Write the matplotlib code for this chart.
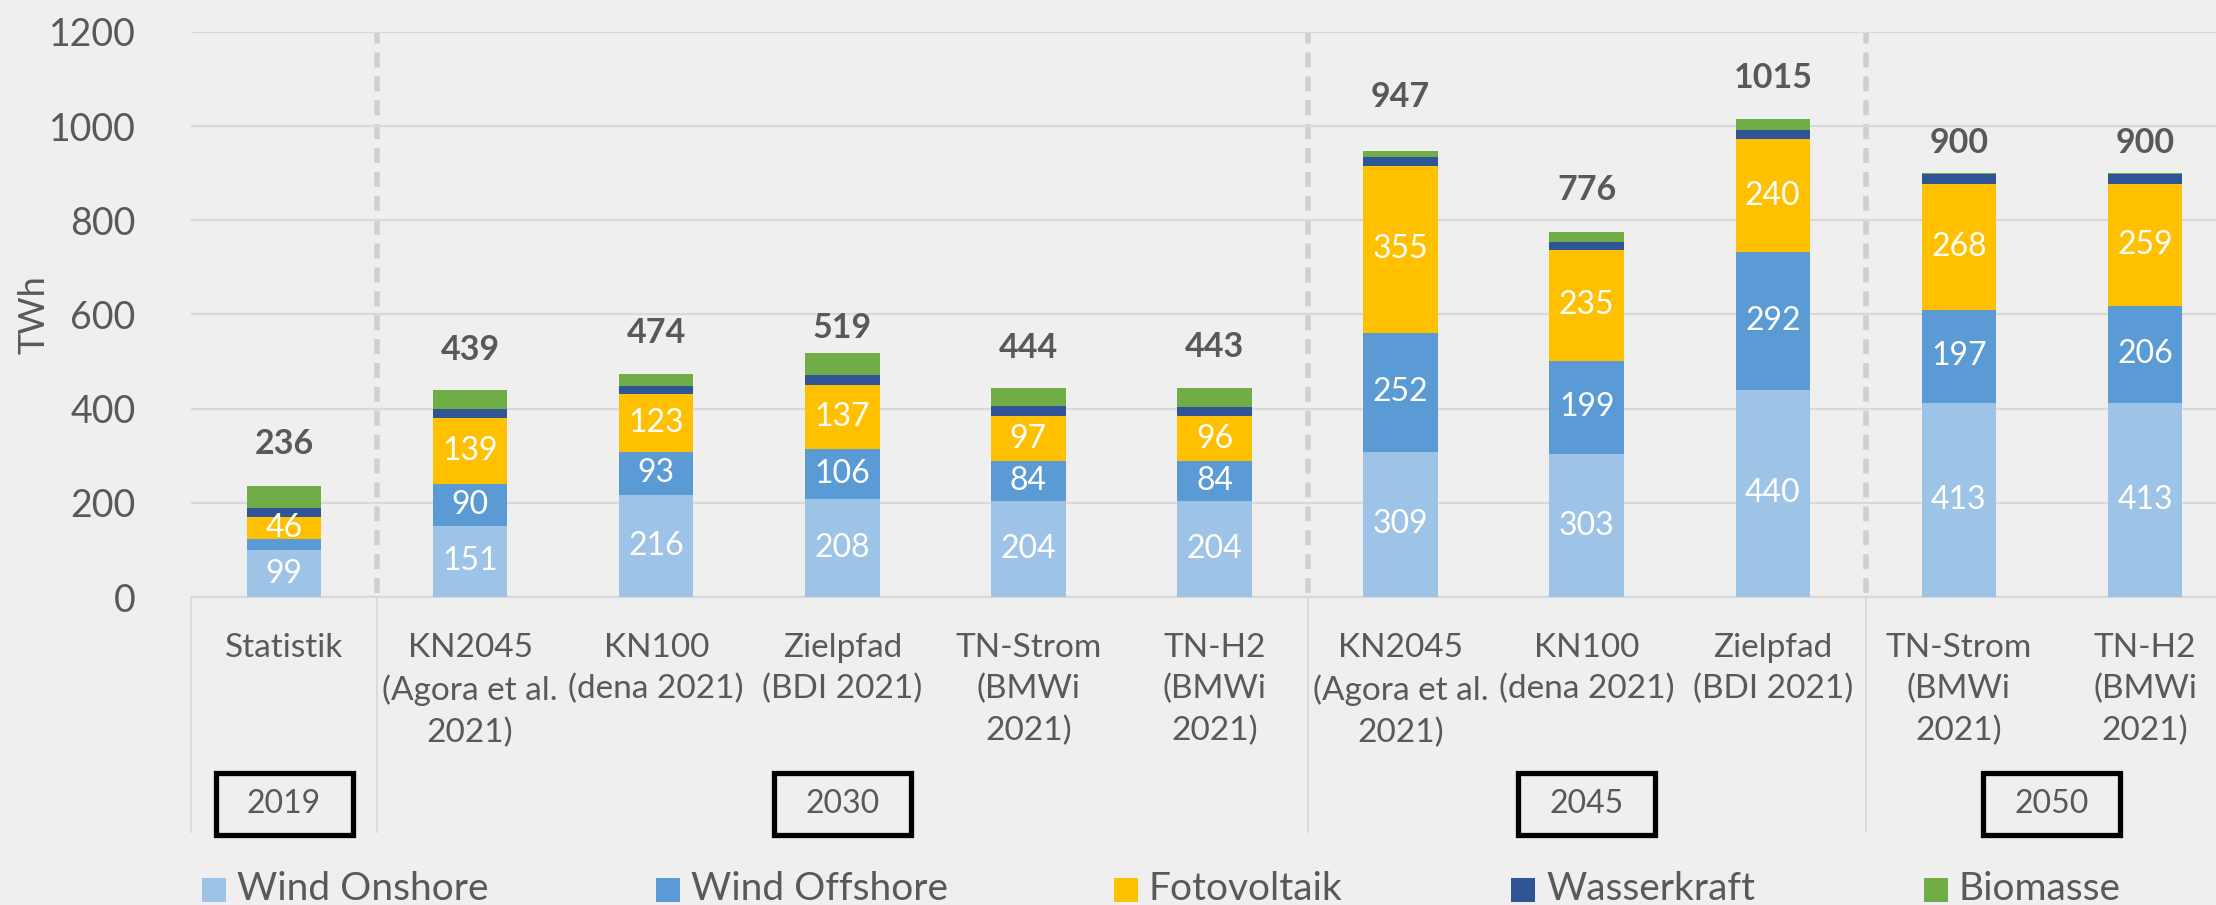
import matplotlib.pyplot as plt
from matplotlib.patches import Rectangle
from matplotlib.transforms import blended_transform_factory

plt.rcParams['font.family'] = ['Lato', 'DejaVu Sans']

# Daten (TWh)
categories = ['Statistik',
              'KN2045\n(Agora et al.\n2021)', 'KN100\n(dena 2021)', 'Zielpfad\n(BDI 2021)',
              'TN-Strom\n(BMWi\n2021)', 'TN-H2\n(BMWi\n2021)',
              'KN2045\n(Agora et al.\n2021)', 'KN100\n(dena 2021)', 'Zielpfad\n(BDI 2021)',
              'TN-Strom\n(BMWi\n2021)', 'TN-H2\n(BMWi\n2021)']
onshore = [99, 151, 216, 208, 204, 204, 309, 303, 440, 413, 413]
offshore = [24, 90, 93, 106, 84, 84, 252, 199, 292, 197, 206]
pv = [46, 139, 123, 137, 97, 96, 355, 235, 240, 268, 259]
hydro = [19, 20, 17, 20, 20, 20, 19, 16, 20, 20, 20]
bio = [48, 39, 25, 48, 39, 39, 12, 23, 23, 2, 2]

series = [('Wind Onshore', onshore, '#9dc3e6'),
          ('Wind Offshore', offshore, '#5b9bd5'),
          ('Fotovoltaik', pv, '#ffc000'),
          ('Wasserkraft', hydro, '#2f5597'),
          ('Biomasse', bio, '#70ad47')]

years = ['2019', '2030', '2045', '2050']
year_pos = [0, 3, 7, 9.5]
group_sep = [0.5, 5.5, 8.5]

# Abstand der Summenbeschriftung über dem Balken (pt)
label_offset = [30, 29, 29.5, 18, 29, 29.5, 39, 30, 29.5, 21.6, 21.6]

bg = '#efefef'
grey = '#595959'

fig = plt.figure(figsize=(22.16, 9.05), dpi=100, facecolor=bg)
ax = fig.add_axes([191 / 2216, 308 / 905, 2047 / 2216, 565 / 905])
ax.set_facecolor(bg)

x = list(range(len(categories)))
bottom = [0] * len(x)
for i, (name, vals, col) in enumerate(series):
    bars = ax.bar(x, vals, 0.4, bottom=bottom, color=col, label=name, zorder=3)
    if i < 3:
        labels = [str(v) if v >= 30 else '' for v in vals]
        ax.bar_label(bars, labels=labels, label_type='center', color='white',
                     fontsize=23, zorder=4)
    bottom = [b + v for b, v in zip(bottom, vals)]

# Summen
for xi, tot, off in zip(x, bottom, label_offset):
    ax.annotate(str(tot), (xi, tot), xytext=(0, off), textcoords='offset points',
                ha='center', va='center', fontsize=24.5, fontweight='bold', color=grey)

ax.set_xlim(-0.5, 10.5)
ax.set_ylim(0, 1200)
ax.set_yticks(range(0, 1201, 200))
ax.grid(axis='y', color='#d9d9d9', lw=1.6, zorder=0)
ax.tick_params(axis='y', length=0, labelsize=27, labelcolor=grey, pad=40)
ax.tick_params(axis='x', length=0, labelsize=24, labelcolor=grey, pad=26)
ax.set_xticks(x)
ax.set_xticklabels(categories, linespacing=1.45)
for s in ['top', 'left', 'right']:
    ax.spines[s].set_visible(False)
ax.spines['bottom'].set_color('#d9d9d9')
ax.spines['bottom'].set_linewidth(1.6)
ax.set_ylabel('TWh', fontsize=26, color=grey)
ax.yaxis.set_label_coords(-0.0684, 0.5)

# gestrichelte Trennlinien
for s in group_sep:
    ax.plot([s, s], [8, 1200], color='#d0d0d0', lw=4, ls=(0, (2.7, 1.6)), zorder=1)

# Trennlinien unter der Achse
tr = ax.get_xaxis_transform()
for s in [-0.5] + group_sep:
    ax.plot([s, s], [0, -0.416], color='#d9d9d9', lw=1.3, transform=tr, clip_on=False)

# Jahres-Boxen
trb = blended_transform_factory(ax.transData, fig.transFigure)
for yr, p in zip(years, year_pos):
    ax.add_patch(Rectangle((p - 0.368, 70 / 905), 0.736, 62 / 905, transform=trb,
                           facecolor=bg, edgecolor='black', lw=3.8, clip_on=False))
    ax.text(p, 101 / 905, yr, transform=trb, ha='center', va='center',
            fontsize=23, color=grey)

# Legende
leg_x = [202, 656, 1114, 1511, 1924]
for (name, vals, col), lx in zip(series, leg_x):
    fig.patches.append(Rectangle((lx / 2216, 3 / 905), 24 / 2216, 24 / 905,
                                 transform=fig.transFigure, facecolor=col))
    fig.text((lx + 35) / 2216, 5 / 905, name, ha='left', va='baseline',
             fontsize=28, color=grey)

fig.savefig('out.png', dpi=100, facecolor=bg)
